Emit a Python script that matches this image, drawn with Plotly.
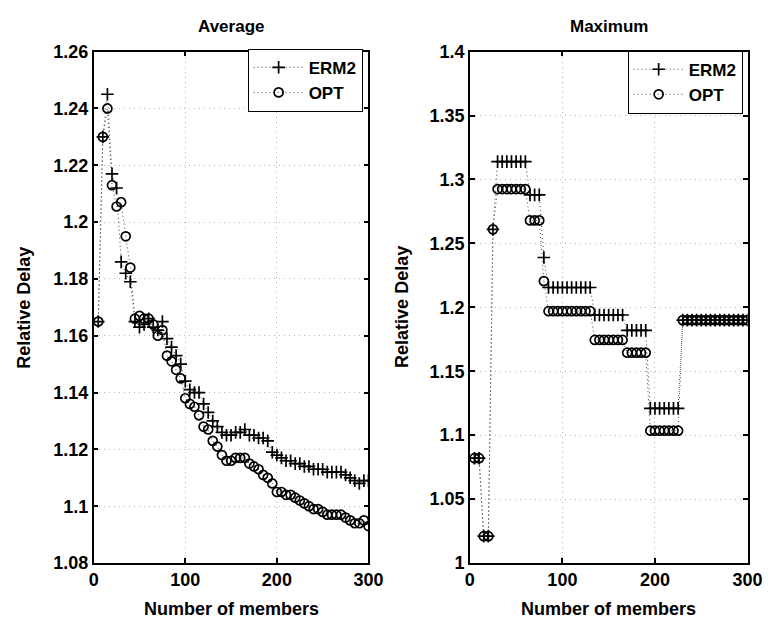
import plotly.graph_objects as go

members = list(range(5, 301, 5))

avg_erm2 = [1.165, 1.230, 1.245, 1.217, 1.212, 1.186, 1.182, 1.179, 1.165, 1.163,
            1.164, 1.166, 1.163, 1.162, 1.165, 1.159, 1.156, 1.153, 1.150, 1.144,
            1.141, 1.140, 1.140, 1.136, 1.133, 1.130, 1.128, 1.126, 1.125, 1.125,
            1.126, 1.126, 1.127, 1.125, 1.125, 1.124, 1.124, 1.123, 1.119, 1.118,
            1.117, 1.116, 1.116, 1.115, 1.115, 1.114, 1.114, 1.113, 1.113, 1.113,
            1.112, 1.112, 1.112, 1.112, 1.111, 1.110, 1.109, 1.108, 1.109, 1.109]

avg_opt = [1.165, 1.230, 1.240, 1.213, 1.2055, 1.207, 1.195, 1.184, 1.166, 1.167,
           1.166, 1.166, 1.164, 1.160, 1.162, 1.153, 1.151, 1.148, 1.145, 1.138,
           1.136, 1.135, 1.132, 1.128, 1.127, 1.123, 1.121, 1.118, 1.116, 1.116,
           1.117, 1.117, 1.117, 1.115, 1.114, 1.113, 1.111, 1.110, 1.108, 1.105,
           1.105, 1.104, 1.104, 1.103, 1.102, 1.101, 1.100, 1.099, 1.099, 1.098,
           1.097, 1.097, 1.097, 1.097, 1.096, 1.095, 1.094, 1.094, 1.095, 1.093]

max_erm2 = ([1.082] * 2 + [1.021] * 2 + [1.261] + [1.314] * 7 + [1.288] * 3 + [1.239]
            + [1.2155] * 10 + [1.194] * 7 + [1.182] * 5 + [1.121] * 7 + [1.19] * 15)

max_opt = ([1.082] * 2 + [1.021] * 2 + [1.261] + [1.2925] * 7 + [1.268] * 3 + [1.2205]
           + [1.197] * 10 + [1.1745] * 7 + [1.1645] * 5 + [1.1035] * 7 + [1.19] * 15)

avg_ticks = [1.08, 1.10, 1.12, 1.14, 1.16, 1.18, 1.20, 1.22, 1.24, 1.26]
avg_ticktext = ["1.08", "1.1", "1.12", "1.14", "1.16", "1.18", "1.2", "1.22", "1.24", "1.26"]
max_ticks = [1.0, 1.05, 1.10, 1.15, 1.20, 1.25, 1.30, 1.35, 1.40]
max_ticktext = ["1", "1.05", "1.1", "1.15", "1.2", "1.25", "1.3", "1.35", "1.4"]
x_ticks = [0, 100, 200, 300]

FONT = "Liberation Sans"
W, H = 783, 635

fig = go.Figure()


def add_series(x, y, name, symbol, xa, ya, legend, size):
    fig.add_trace(go.Scatter(
        x=x, y=y, name=name, mode="lines+markers",
        line=dict(color="#444444", width=1, dash="1px,3px"),
        marker=dict(symbol=symbol, size=size, color="black",
                    line=dict(color="black", width=1.7)),
        xaxis=xa, yaxis=ya, legend=legend,
    ))


add_series(members, avg_erm2, "ERM2", "cross-thin-open", "x", "y", "legend", 9)
add_series(members, avg_opt, "OPT", "circle-open", "x", "y", "legend", 9)
add_series(members, max_erm2, "ERM2", "cross-thin-open", "x2", "y2", "legend2", 9)
add_series(members, max_opt, "OPT", "circle-open", "x2", "y2", "legend2", 9)

ydom = [(H - 571) / H, (H - 43) / H]
axis_common = dict(
    showline=True, linecolor="black", linewidth=1.5, mirror="allticks",
    ticks="inside", ticklen=5, tickcolor="black", tickwidth=1.5,
    showgrid=True, gridcolor="#b5b5b5", griddash="1px,4px", gridwidth=1,
    zeroline=False,
    tickfont=dict(family=FONT, size=18, color="black", weight="bold"),
)

fig.update_layout(
    width=W, height=H,
    margin=dict(l=0, r=0, t=0, b=0),
    paper_bgcolor="white", plot_bgcolor="white",
    showlegend=True,
    xaxis=dict(domain=[91 / W, 373 / W], range=[0, 300], tickvals=x_ticks,
               anchor="y", **axis_common),
    yaxis=dict(domain=ydom, range=[1.08, 1.26], tickvals=avg_ticks,
               ticktext=avg_ticktext, anchor="x", **axis_common),
    xaxis2=dict(domain=[477 / W, 762 / W], range=[0, 300], tickvals=x_ticks,
                anchor="y2", **axis_common),
    yaxis2=dict(domain=ydom, range=[1.0, 1.4], tickvals=max_ticks,
                ticktext=max_ticktext, anchor="x2", **axis_common),
    legend=dict(x=367 / W, y=(H - 40) / H, xanchor="right", yanchor="top",
                bgcolor="white", bordercolor="black", borderwidth=1,
                font=dict(family=FONT, size=17, color="black", weight="bold"),
                tracegroupgap=0, itemwidth=50),
    legend2=dict(x=757 / W, y=(H - 42) / H, xanchor="right", yanchor="top",
                 bgcolor="white", bordercolor="black", borderwidth=1,
                 font=dict(family=FONT, size=17, color="black", weight="bold"),
                 tracegroupgap=0, itemwidth=50),
)

title_font = dict(family=FONT, size=17, color="black", weight="bold")
label_font = dict(family=FONT, size=18, color="black", weight="bold")
annots = [
    dict(text="Average", x=232 / W, y=(H - 17) / H, font=title_font),
    dict(text="Maximum", x=619.5 / W, y=(H - 17) / H, font=title_font),
    dict(text="Number of members", x=232 / W, y=(H - 618) / H, font=label_font),
    dict(text="Number of members", x=619.5 / W, y=(H - 618) / H, font=label_font),
    dict(text="Relative Delay", x=20 / W, y=(H - 307) / H, font=label_font, textangle=-90),
    dict(text="Relative Delay", x=408 / W, y=(H - 307) / H, font=label_font, textangle=-90),
]
for a in annots:
    fig.add_annotation(xref="paper", yref="paper", showarrow=False,
                       xanchor="center", yanchor="middle", **a)

fig.write_html("out.html")
